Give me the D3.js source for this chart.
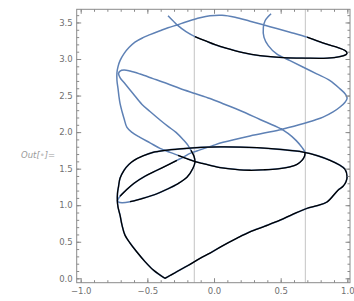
<!DOCTYPE html>
<html>
<head>
<meta charset="utf-8">
<script src="https://cdn.jsdelivr.net/npm/d3@7"></script>
<style>
  body { margin: 0; background: #fff; }
  text { font-family: "DejaVu Sans", sans-serif; }
</style>
</head>
<body>
<div id="chart"></div>
<script>
// ticks
var xMajor = [-1, -0.5, 0, 0.5, 1];
var yMajor = [0, 0.5, 1, 1.5, 2, 2.5, 3, 3.5];
var xMinor = d3.range(-10, 11).map(d => d / 10);
var yMinor = d3.range(0, 37).map(d => d / 10);
var gridX = [-0.148, 0.685];

// curve pieces, in drawing order
var blueStart = [[-0.345,3.592],[-0.308,3.524],[-0.270,3.456],[-0.210,3.374],[-0.143,3.306]];
var blackTop = [[-0.143,3.306],[-0.068,3.251],[0.008,3.196],[0.105,3.142],[0.218,3.087],[0.345,3.046],
  [0.518,3.019],[0.683,3.012],[0.848,3.012],[0.945,3.033],[0.990,3.060],[0.998,3.081],[0.983,3.115],
  [0.930,3.156],[0.870,3.190],[0.780,3.244],[0.698,3.299]];
var blueUpper = [[0.698,3.299],[0.570,3.367],[0.420,3.442],[0.270,3.517],[0.158,3.572],[0.060,3.599],
  [-0.030,3.592],[-0.105,3.565],[-0.158,3.537],[-0.218,3.503],[-0.270,3.469],[-0.345,3.428],[-0.405,3.387],
  [-0.480,3.333],[-0.533,3.292],[-0.593,3.231],[-0.638,3.156],[-0.675,3.074],[-0.705,2.978],[-0.720,2.896],
  [-0.728,2.815],[-0.728,2.705],[-0.720,2.596],[-0.713,2.487],[-0.705,2.392],[-0.690,2.282],[-0.675,2.187],
  [-0.653,2.064],[-0.615,1.996],[-0.555,1.928],[-0.480,1.853],[-0.405,1.778],[-0.330,1.723],[-0.270,1.682]];
var blackInner = [[-0.270,1.682],[-0.210,1.641],[-0.158,1.607],[-0.090,1.573],[-0.030,1.546],[0.060,1.512],
  [0.158,1.491],[0.270,1.478],[0.368,1.484],[0.480,1.498],[0.570,1.525],[0.623,1.559],[0.660,1.614],
  [0.679,1.669],[0.683,1.723]];
var blueMiddle = [[0.683,1.723],[0.660,1.791],[0.615,1.887],[0.555,1.982],[0.495,2.050],[0.345,2.173],
  [0.195,2.296],[0.083,2.378],[-0.030,2.460],[-0.143,2.528],[-0.255,2.596],[-0.353,2.664],[-0.458,2.732],
  [-0.555,2.794],[-0.630,2.835],[-0.675,2.849],[-0.705,2.835],[-0.716,2.801],[-0.705,2.746],[-0.675,2.678],
  [-0.608,2.528],[-0.540,2.378],[-0.480,2.282],[-0.405,2.166],[-0.345,2.078],[-0.285,1.996],[-0.233,1.900],
  [-0.195,1.819],[-0.173,1.750]];
var blackLower = [[-0.173,1.750],[-0.150,1.669],[-0.143,1.587],[-0.158,1.505],[-0.203,1.382],[-0.278,1.287],
  [-0.353,1.218],[-0.428,1.157],[-0.533,1.095],[-0.630,1.048]];
var blueTip = [[-0.630,1.048],[-0.690,1.034],[-0.718,1.045],[-0.724,1.061],[-0.705,1.123]];
var blackRise = [[-0.705,1.123],[-0.660,1.205],[-0.600,1.300],[-0.518,1.396],[-0.428,1.478],[-0.330,1.566],
  [-0.278,1.614]];
var blueEnd = [[-0.278,1.614],[-0.225,1.662],[-0.180,1.709],[-0.105,1.757],[-0.015,1.812],[0.068,1.860],
  [0.270,1.948],[0.495,2.033],[0.645,2.105],[0.758,2.166],[0.818,2.205],[0.893,2.276],[0.945,2.344],
  [0.983,2.409],[0.998,2.460],[0.988,2.514],[0.945,2.592],[0.870,2.705],[0.770,2.797],[0.670,2.887],
  [0.570,2.978],[0.470,3.070],[0.407,3.183],[0.375,3.296],[0.370,3.433],[0.383,3.524],[0.405,3.578],
  [0.428,3.619]];
// lower loop, starts and ends at the cusp at the bottom
var blackLoop = [[-0.368,0.000],[-0.405,0.045],[-0.455,0.113],[-0.518,0.229],[-0.580,0.363],[-0.630,0.482],
  [-0.668,0.591],[-0.690,0.727],[-0.705,0.864],[-0.720,0.973],[-0.725,1.055],[-0.724,1.164],[-0.716,1.259],
  [-0.705,1.368],[-0.675,1.478],[-0.638,1.559],[-0.600,1.614],[-0.533,1.675],[-0.458,1.723],[-0.368,1.750],
  [-0.255,1.771],[-0.158,1.784],[0.045,1.798],[0.323,1.787],[0.495,1.764],[0.668,1.727],[0.780,1.675],
  [0.870,1.614],[0.938,1.553],[0.983,1.491],[0.998,1.389],[0.990,1.321],[0.968,1.259],[0.930,1.205],
  [0.848,1.045],[0.773,0.993],[0.695,0.955],[0.593,0.877],[0.495,0.795],[0.383,0.714],[0.270,0.636],
  [0.173,0.550],[0.060,0.441],[-0.030,0.345],[-0.105,0.273],[-0.195,0.175],[-0.280,0.090],[-0.330,0.038],
  [-0.368,0.000]];

var width = 354, height = 301;
var frame = { left: 76.7, right: 350, top: 9.3, bottom: 282.7 };

var svg = d3.select("#chart").append("svg")
  .attr("width", width)
  .attr("height", height);

var x = d3.scaleLinear().domain([-1.03, 1.02]).range([frame.left, frame.right]);
var y = d3.scaleLinear().domain([-0.06, 3.68]).range([frame.bottom, frame.top]);

var frameColor = "#8a8a8a";
var labelColor = "#707070";
var blue = "#5e81b5";

// vertical grid lines
svg.selectAll(".grid")
  .data(gridX)
  .enter().append("line")
  .attr("class", "grid")
  .attr("x1", d => x(d)).attr("x2", d => x(d))
  .attr("y1", frame.top).attr("y2", frame.bottom)
  .attr("stroke", "#c4c4c4")
  .attr("stroke-width", 1);

var line = d3.line()
  .x(d => x(d[0]))
  .y(d => y(d[1]))
  .curve(d3.curveCatmullRom.alpha(0.5));

var plot = svg.append("g");

// blue curve underneath, one piece
var bluePath = [].concat(blueStart, blackTop.slice(1), blueUpper.slice(1), blackInner.slice(1),
  blueMiddle.slice(1), blackLower.slice(1), blueTip.slice(1), blackRise.slice(1), blueEnd.slice(1));

plot.append("path")
  .attr("d", line(bluePath))
  .attr("fill", "none")
  .attr("stroke", blue)
  .attr("stroke-width", 1.5);

plot.append("path")
  .attr("d", line(blackLoop))
  .attr("fill", "none")
  .attr("stroke", blue)
  .attr("stroke-width", 1.6);

// black pieces on top
[blackTop, blackInner, blackLower, blackRise, blackLoop].forEach(function(seg) {
  plot.append("path")
    .attr("d", line(seg))
    .attr("fill", "none")
    .attr("stroke", "#000")
    .attr("stroke-width", 1.3);
});

// frame
svg.append("rect")
  .attr("x", frame.left).attr("y", frame.top)
  .attr("width", frame.right - frame.left)
  .attr("height", frame.bottom - frame.top)
  .attr("fill", "none")
  .attr("stroke", frameColor)
  .attr("stroke-width", 1);

var fmt = d3.format(".1f");

function addAxis(axis, tx, ty, labels) {
  var g = svg.append("g")
    .attr("transform", "translate(" + tx + "," + ty + ")")
    .call(axis);
  g.select(".domain").remove();
  g.selectAll(".tick line").attr("stroke", frameColor);
  g.selectAll(".tick text")
    .attr("fill", labelColor)
    .style("font-size", "8.5px");
  if (!labels) g.selectAll(".tick text").remove();
  return g;
}

// bottom
addAxis(d3.axisBottom(x).tickValues(xMinor).tickSize(-2.5).tickFormat(""), 0, frame.bottom, false);
addAxis(d3.axisBottom(x).tickValues(xMajor).tickSize(-4.5).tickPadding(5).tickFormat(fmt), 0, frame.bottom, true);
// top
addAxis(d3.axisTop(x).tickValues(xMinor).tickSize(-2.5).tickFormat(""), 0, frame.top, false);
addAxis(d3.axisTop(x).tickValues(xMajor).tickSize(-4.5).tickFormat(""), 0, frame.top, false);
// left
addAxis(d3.axisLeft(y).tickValues(yMinor).tickSize(-2.5).tickFormat(""), frame.left, 0, false);
addAxis(d3.axisLeft(y).tickValues(yMajor).tickSize(-4.5).tickPadding(4).tickFormat(fmt), frame.left, 0, true);
// right
addAxis(d3.axisRight(y).tickValues(yMinor).tickSize(-2.5).tickFormat(""), frame.right, 0, false);
addAxis(d3.axisRight(y).tickValues(yMajor).tickSize(-4.5).tickFormat(""), frame.right, 0, false);

// output label
var out = svg.append("text")
  .attr("x", 21)
  .attr("y", 158)
  .attr("fill", "#9a9a9a")
  .style("font-size", "8.5px")
  .style("font-style", "italic");
out.append("tspan").text("Out[");
out.append("tspan").attr("fill", "#c8c8c8").text("\u2022");
out.append("tspan").text("]=");
</script>
</body>
</html>
